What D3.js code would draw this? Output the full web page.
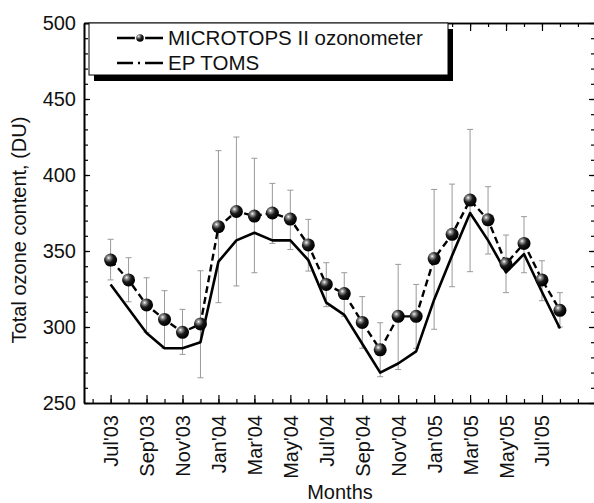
<!DOCTYPE html>
<html>
<head>
<meta charset="utf-8">
<script src="https://cdn.jsdelivr.net/npm/d3@7"></script>
<style>
  body { margin: 0; background: #fff; }
  svg { display: block; font-family: "Liberation Sans", Arial, sans-serif; }
</style>
</head>
<body>
<script>
// month labels (index 0 = Jul'03)
var months = ["Jul'03","Aug'03","Sep'03","Oct'03","Nov'03","Dec'03","Jan'04","Feb'04","Mar'04","Apr'04","May'04","Jun'04",
              "Jul'04","Aug'04","Sep'04","Oct'04","Nov'04","Dec'04","Jan'05","Feb'05","Mar'05","Apr'05","May'05","Jun'05",
              "Jul'05","Aug'05"];
var micro   = [344, 331, 314.5, 305, 296.5, 302, 366, 376, 373, 375, 371, 354,
               328, 322, 303, 285, 307, 307, 345, 361, 383.5, 370.5, 341.5, 355, 331, 311];
var microHi = [357.7, 345.6, 332.4, 323.9, 311.6, 337, 416, 425, 411, 394.5, 390, 370.8,
               342.3, 335.7, 320, 302.8, 341.2, 328, 390.5, 394, 430, 392.3, 360.5, 372.6, 343.6, 322.6];
var microLo = [331, 316.6, 296.5, 286, 282, 266.6, 316, 327, 335.7, 355, 351, 336.8,
               313.4, 307, 286, 267.3, 272, 286, 298.5, 326.5, 336.4, 348, 322.6, 335.7, 317.3, 300];
var toms    = [328, 312, 296, 286, 286, 290, 343, 357, 362, 357, 357, 344,
               316, 308, 289, 270, 276, 284, 318, 347, 375, 357, 336, 348, 323, 299];
var yMajor = [250, 300, 350, 400, 450, 500];
var seriesNames = ["MICROTOPS II ozonometer", "EP TOMS"];

var w = 594, h = 503;
var pLeft = 84, pRight = 595, pTop = 23, pBottom = 403;

var svg = d3.select("body").append("svg")
    .attr("width", w)
    .attr("height", h);

var defs = svg.append("defs");
var grad = defs.append("radialGradient")
    .attr("id", "ball")
    .attr("cx", "35%").attr("cy", "32%").attr("r", "65%");
grad.append("stop").attr("offset", "0%").attr("stop-color", "#fff");
grad.append("stop").attr("offset", "18%").attr("stop-color", "#999");
grad.append("stop").attr("offset", "55%").attr("stop-color", "#1a1a1a");
grad.append("stop").attr("offset", "100%").attr("stop-color", "#000");

var x = d3.scaleLinear().domain([-1.48, 26.95]).range([pLeft, pRight]);
var y = d3.scaleLinear().domain([250, 500]).range([pBottom, pTop]);

var allMonths = d3.range(-1, 27);
var labelMonths = d3.range(0, 25, 2);
var yMinor = d3.range(250, 501, 10);

// minor ticks (every month / every 10 DU), pointing inward
svg.append("g").attr("transform", "translate(0," + pBottom + ")")
   .call(d3.axisBottom(x).tickValues(allMonths).tickSizeInner(-4).tickSizeOuter(0).tickFormat(""));
svg.append("g").attr("transform", "translate(0," + pTop + ")")
   .call(d3.axisTop(x).tickValues(allMonths).tickSizeInner(-4).tickSizeOuter(0).tickFormat(""));
svg.append("g").attr("transform", "translate(" + pLeft + ",0)")
   .call(d3.axisLeft(y).tickValues(yMinor).tickSizeInner(-4).tickSizeOuter(0).tickFormat(""));
svg.append("g").attr("transform", "translate(" + pRight + ",0)")
   .call(d3.axisRight(y).tickValues(yMinor).tickSizeInner(-4).tickSizeOuter(0).tickFormat(""));

// major ticks
var xAx = svg.append("g").attr("transform", "translate(0," + pBottom + ")")
   .call(d3.axisBottom(x).tickValues(labelMonths).tickSizeInner(-8).tickSizeOuter(0)
         .tickFormat(function(d) { return months[d]; }));
xAx.selectAll("text")
   .attr("transform", "rotate(-90)")
   .attr("x", -12).attr("y", 0).attr("dy", "0.35em")
   .attr("text-anchor", "end")
   .style("font-size", "20px").style("fill", "#111");
svg.append("g").attr("transform", "translate(0," + pTop + ")")
   .call(d3.axisTop(x).tickValues(labelMonths).tickSizeInner(-8).tickSizeOuter(0).tickFormat(""));
var yAx = svg.append("g").attr("transform", "translate(" + pLeft + ",0)")
   .call(d3.axisLeft(y).tickValues(yMajor).tickSizeInner(-6).tickSizeOuter(0).tickPadding(8));
yAx.selectAll("text").style("font-size", "20px").style("fill", "#111");
svg.append("g").attr("transform", "translate(" + pRight + ",0)")
   .call(d3.axisRight(y).tickValues(yMajor).tickSizeInner(-6).tickSizeOuter(0).tickFormat(""));

svg.selectAll(".domain").attr("stroke", "#000").attr("stroke-width", 1.6);
svg.selectAll(".tick line").attr("stroke", "#000").attr("stroke-width", 1.2);

// error bars
var eb = svg.append("g").attr("stroke", "#9a9a9a").attr("stroke-width", 1);
eb.selectAll("line.bar").data(micro).enter().append("line")
  .attr("x1", function(d, i) { return x(i); })
  .attr("x2", function(d, i) { return x(i); })
  .attr("y1", function(d, i) { return y(microHi[i]); })
  .attr("y2", function(d, i) { return y(microLo[i]); });
eb.selectAll("line.capHi").data(micro).enter().append("line")
  .attr("x1", function(d, i) { return x(i) - 3; })
  .attr("x2", function(d, i) { return x(i) + 3; })
  .attr("y1", function(d, i) { return y(microHi[i]); })
  .attr("y2", function(d, i) { return y(microHi[i]); });
eb.selectAll("line.capLo").data(micro).enter().append("line")
  .attr("x1", function(d, i) { return x(i) - 3; })
  .attr("x2", function(d, i) { return x(i) + 3; })
  .attr("y1", function(d, i) { return y(microLo[i]); })
  .attr("y2", function(d, i) { return y(microLo[i]); });

var line = d3.line()
    .x(function(d, i) { return x(i); })
    .y(function(d) { return y(d); });

svg.append("path").datum(toms)
   .attr("d", line)
   .attr("fill", "none").attr("stroke", "#000").attr("stroke-width", 2.6)
   .attr("stroke-linejoin", "round");

svg.append("path").datum(micro)
   .attr("d", line)
   .attr("fill", "none").attr("stroke", "#000").attr("stroke-width", 2.4)
   .attr("stroke-dasharray", "7,4");

svg.selectAll("circle.pt").data(micro).enter().append("circle")
   .attr("class", "pt")
   .attr("cx", function(d, i) { return x(i); })
   .attr("cy", function(d) { return y(d); })
   .attr("r", 6.5)
   .attr("fill", "url(#ball)");

// legend
var lg = svg.append("g");
lg.append("rect").attr("x", 94).attr("y", 29).attr("width", 359).attr("height", 52).attr("fill", "#000");
lg.append("rect").attr("x", 89).attr("y", 23).attr("width", 359).attr("height", 52)
  .attr("fill", "#fff").attr("stroke", "#000").attr("stroke-width", 1);
var ly = [38, 63];
lg.append("line").attr("x1", 117).attr("x2", 163).attr("y1", ly[0]).attr("y2", ly[0])
  .attr("stroke", "#000").attr("stroke-width", 2.4);
lg.append("circle").attr("cx", 140).attr("cy", ly[0]).attr("r", 4.5).attr("fill", "url(#ball)")
  .attr("stroke", "#fff").attr("stroke-width", 1.5);
lg.append("line").attr("x1", 117).attr("x2", 163).attr("y1", ly[1]).attr("y2", ly[1])
  .attr("stroke", "#000").attr("stroke-width", 2.6).attr("stroke-dasharray", "16,5,2,5,18");
lg.selectAll("text").data(seriesNames).enter().append("text")
  .attr("x", 168)
  .attr("y", function(d, i) { return ly[i] + 7; })
  .style("font-size", "20.5px").style("fill", "#111")
  .text(function(d) { return d; });

// axis titles
svg.append("text").attr("x", 340).attr("y", 499).attr("text-anchor", "middle")
   .style("font-size", "20px").style("fill", "#111").text("Months");
svg.append("text").attr("transform", "translate(26,230) rotate(-90)").attr("text-anchor", "middle")
   .style("font-size", "20px").style("fill", "#111").text("Total ozone content, (DU)");
</script>
</body>
</html>
